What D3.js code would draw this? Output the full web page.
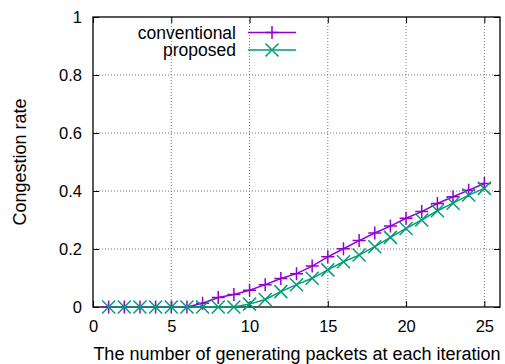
<!DOCTYPE html>
<html>
<head>
<meta charset="utf-8">
<script src="https://cdn.jsdelivr.net/npm/d3@7"></script>
<style>
  body { margin: 0; background: #fff; }
  text { font-family: "Liberation Sans", Arial, sans-serif; fill: #000; }
</style>
</head>
<body>
<div id="chart"></div>
<script>
// packets generated per iteration (x)
const packets = d3.range(1, 26);
// congestion rate
const conventional = [0, 0, 0, 0, 0, 0, 0.013, 0.033, 0.043, 0.058, 0.077, 0.098,
  0.115, 0.141, 0.173, 0.201, 0.229, 0.255, 0.279, 0.306, 0.329, 0.357, 0.38, 0.403, 0.426];
const proposed = [0, 0, 0, 0, 0, 0, 0, 0, 0, 0.01, 0.026, 0.053,
  0.077, 0.099, 0.128, 0.156, 0.179, 0.208, 0.24, 0.271, 0.3, 0.332, 0.358, 0.386, 0.409];
const xTicks = [0, 5, 10, 15, 20, 25];
const yTicks = [0, 0.2, 0.4, 0.6, 0.8, 1];

const series = [
  { name: 'conventional', values: conventional, color: '#9400d3', marker: 'plus' },
  { name: 'proposed', values: proposed, color: '#009e73', marker: 'cross' }
];

const W = 505, H = 364;
const margin = { top: 17, right: 5, bottom: 57, left: 93 };
const width = W - margin.left - margin.right;
const height = H - margin.top - margin.bottom;

const svg = d3.select('#chart').append('svg')
  .attr('width', W).attr('height', H);
const g = svg.append('g').attr('transform', `translate(${margin.left},${margin.top})`);

const x = d3.scaleLinear().domain([0, 26]).range([0, width]);
const y = d3.scaleLinear().domain([0, 1]).range([height, 0]);

// grid lines (dotted)
g.append('g').selectAll('line').data(xTicks.filter(d => d > 0)).join('line')
  .attr('x1', d => x(d)).attr('x2', d => x(d)).attr('y1', 0).attr('y2', height)
  .attr('stroke', '#777').attr('stroke-width', 1).attr('stroke-dasharray', '1,2');
g.append('g').selectAll('line').data(yTicks.filter(d => d > 0 && d < 1)).join('line')
  .attr('x1', 0).attr('x2', width).attr('y1', d => y(d)).attr('y2', d => y(d))
  .attr('stroke', '#777').attr('stroke-width', 1).attr('stroke-dasharray', '1,2');

// axes, ticks pointing inward and mirrored
const tk = 6;
g.append('g').attr('transform', `translate(0,${height})`)
  .call(d3.axisBottom(x).tickValues(xTicks).tickSizeInner(-tk).tickSizeOuter(0).tickPadding(13));
g.append('g')
  .call(d3.axisLeft(y).tickValues(yTicks).tickFormat(d3.format('~g')).tickSizeInner(-tk).tickSizeOuter(0).tickPadding(11));
g.append('g')
  .call(d3.axisTop(x).tickValues(xTicks).tickSizeInner(-tk).tickSizeOuter(0).tickFormat(''));
g.append('g').attr('transform', `translate(${width},0)`)
  .call(d3.axisRight(y).tickValues(yTicks).tickSizeInner(-tk).tickSizeOuter(0).tickFormat(''));
g.selectAll('.domain').remove();
g.selectAll('.tick line').attr('stroke', '#000');
g.selectAll('.tick text').style('font-size', '16.5px').style('font-family', '"Liberation Sans", Arial, sans-serif');

// border
g.append('rect').attr('width', width).attr('height', height)
  .attr('fill', 'none').attr('stroke', '#000').attr('stroke-width', 1.3);

// axis labels
svg.append('text').attr('text-anchor', 'middle')
  .attr('x', 297).attr('y', 360)
  .style('font-size', '18px')
  .text('The number of generating packets at each iteration');
svg.append('text').attr('text-anchor', 'middle')
  .attr('transform', `translate(26,${margin.top + height / 2}) rotate(-90)`)
  .style('font-size', '18px')
  .text('Congestion rate');

const line = d3.line().x((d, i) => x(packets[i])).y(d => y(d));
const ms = 6.5;

function drawMarker(sel, type, color) {
  if (type === 'plus') {
    sel.append('path').attr('d', `M${-ms},0H${ms}M0,${-ms}V${ms}`);
  } else {
    sel.append('path').attr('d', `M${-ms},${-ms}L${ms},${ms}M${-ms},${ms}L${ms},${-ms}`);
  }
  sel.selectAll('path').attr('stroke', color).attr('stroke-width', 1.5).attr('fill', 'none');
}

series.forEach(s => {
  g.append('path').datum(s.values)
    .attr('d', line).attr('fill', 'none')
    .attr('stroke', s.color).attr('stroke-width', 1.5);
  g.append('g').selectAll('g').data(s.values).join('g')
    .attr('transform', (d, i) => `translate(${x(packets[i])},${y(d)})`)
    .each(function () { drawMarker(d3.select(this), s.marker, s.color); });
});

// legend
const legend = g.append('g');
series.forEach((s, i) => {
  const ly = 15.5 + i * 17.5;
  legend.append('text').attr('x', 143).attr('y', ly).attr('dy', '0.35em')
    .attr('text-anchor', 'end').style('font-size', '17.5px').text(s.name);
  legend.append('line').attr('x1', 155).attr('x2', 203).attr('y1', ly).attr('y2', ly)
    .attr('stroke', s.color).attr('stroke-width', 1.5);
  const m = legend.append('g').attr('transform', `translate(179,${ly})`);
  drawMarker(m, s.marker, s.color);
});
</script>
</body>
</html>
